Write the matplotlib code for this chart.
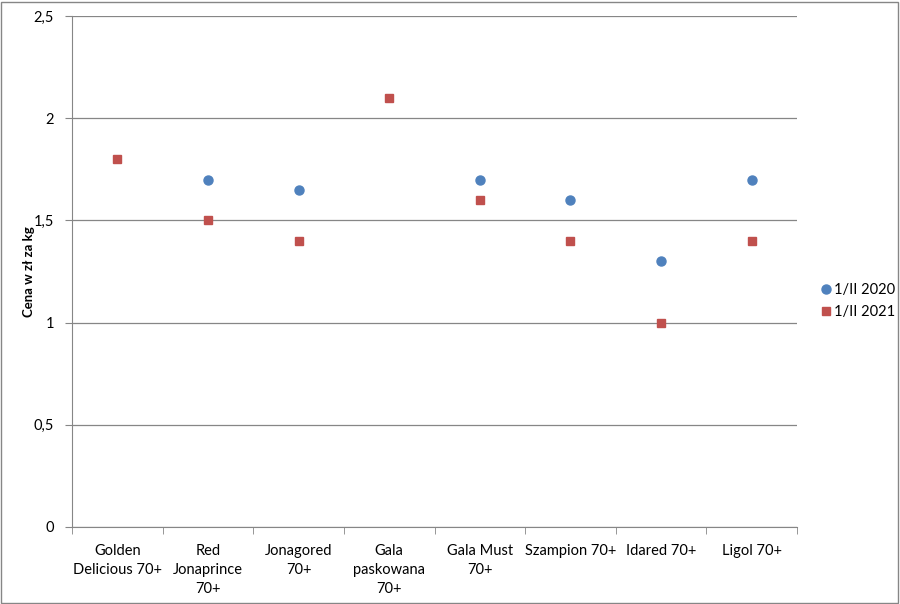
import numpy as np
import matplotlib
matplotlib.use('Agg')
import matplotlib.pyplot as plt
from matplotlib.patches import Rectangle

# Data
categories = ['Golden\nDelicious 70+', 'Red\nJonaprince\n70+', 'Jonagored\n70+',
              'Gala\npaskowana\n70+', 'Gala Must\n70+', 'Szampion 70+',
              'Idared 70+', 'Ligol 70+']
price_2020 = [np.nan, 1.7, 1.65, np.nan, 1.7, 1.6, 1.3, 1.7]
price_2021 = [1.8, 1.5, 1.4, 2.1, 1.6, 1.4, 1.0, 1.4]
series_labels = ['1/II 2020', '1/II 2021']
y_ticks = [0, 0.5, 1, 1.5, 2, 2.5]
y_tick_labels = ['0', '0,5', '1', '1,5', '2', '2,5']

plt.rcParams['font.family'] = ['Lato', 'DejaVu Sans']

fig = plt.figure(figsize=(9, 6.04), dpi=100)
ax = fig.add_axes([72 / 900, 1 - 527 / 604, 725 / 900, 511 / 604])

x = np.arange(len(categories))
ax.plot(x, price_2020, 'o', color='#4F81BD', markersize=6.5, label=series_labels[0],
        linestyle='none')
ax.plot(x, price_2021, 's', color='#C0504D', markersize=6.2, label=series_labels[1],
        linestyle='none')

ax.set_xlim(-0.5, len(categories) - 0.5)
ax.set_ylim(0, 2.5)
ax.set_yticks(y_ticks)
ax.set_yticklabels(y_tick_labels, fontsize=10.5)
ax.set_xticks(x)
ax.set_xticklabels(categories, fontsize=10.5, linespacing=1.45)
ax.tick_params(axis='x', length=0, pad=12)
ax.tick_params(axis='y', length=5, color='#868686', pad=8)

# category separator ticks below the axis
ax.set_xticks(np.arange(-0.5, len(categories), 1), minor=True)
ax.tick_params(axis='x', which='minor', length=5, color='#868686')

ax.grid(axis='y', color='#868686', linewidth=0.9)
ax.set_axisbelow(True)
for side in ['top', 'right']:
    ax.spines[side].set_visible(False)
for side in ['left', 'bottom']:
    ax.spines[side].set_color('#868686')

ax.set_ylabel('Cena w zł za kg', fontsize=9.5, fontweight='bold')
ax.yaxis.set_label_coords(-0.051, 0.5)

fig.legend(loc='center left', bbox_to_anchor=(808 / 900, 1 - 301 / 604), frameon=False,
           fontsize=10.5, handletextpad=0.0, handlelength=1.2, labelspacing=0.6,
           borderpad=0.1)

fig.patches.append(Rectangle((1 / 900, 1 / 604), 897 / 900, 601 / 604, fill=False,
                             edgecolor='#868686', linewidth=1, transform=fig.transFigure))

plt.savefig('out.png', dpi=100)
